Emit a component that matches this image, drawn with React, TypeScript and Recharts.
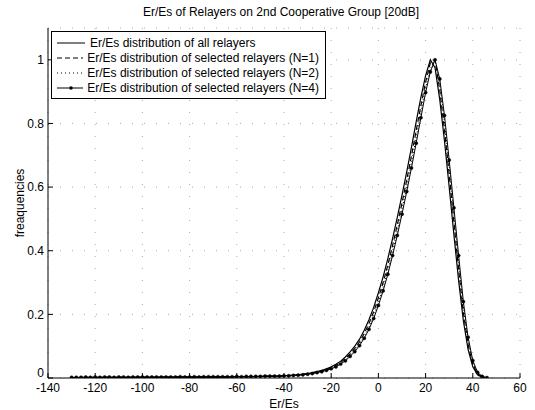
import { LineChart, Line, XAxis, YAxis, CartesianGrid, Legend } from 'recharts';

// Er/Es (dB) sample points, step 2
const erEs = [
    -130, -128, -126, -124, -122, -120, -118, -116, -114, -112, -110, -108, -106, -104, -102, -100,
    -98, -96, -94, -92, -90, -88, -86, -84, -82, -80, -78, -76, -74, -72, -70, -68, -66, -64, -62, -60,
    -58, -56, -54, -52, -50, -48, -46, -44, -42, -40,
    -38, -36, -34, -32, -30, -28, -26, -24, -22, -20, -18, -16, -14, -12, -10, -8, -6, -4, -2,
    0, 2, 4, 6, 8, 10, 12, 14, 16, 18, 20, 22, 24, 26, 28, 30, 32, 34, 36, 38, 40, 42, 44, 46,
];

const allRelayers = [
    0.001, 0.001, 0.001, 0.001, 0.002, 0.001, 0.002, 0.001, 0.002, 0.002, 0.002, 0.002, 0.002, 0.002, 0.002, 0.002,
    0.002, 0.002, 0.002, 0.003, 0.002, 0.003, 0.003, 0.003, 0.003, 0.003, 0.003, 0.003, 0.003, 0.003, 0.003, 0.003, 0.003, 0.004, 0.003, 0.004,
    0.004, 0.004, 0.004, 0.004, 0.005, 0.005, 0.005, 0.006, 0.006, 0.007,
    0.008, 0.009, 0.010, 0.012, 0.014, 0.017, 0.020, 0.024, 0.029, 0.035, 0.043, 0.053, 0.066, 0.082, 0.100, 0.122, 0.150, 0.183, 0.222,
    0.268, 0.318, 0.375, 0.438, 0.505, 0.575, 0.648, 0.725, 0.805, 0.882, 0.950, 1.0, 0.975, 0.875, 0.745, 0.600, 0.450, 0.305, 0.180, 0.090, 0.035, 0.010, 0.002, 0,
];

const selectedN1 = [
    0.001, 0.001, 0.002, 0.001, 0.001, 0.002, 0.001, 0.002, 0.002, 0.001, 0.002, 0.002, 0.002, 0.002, 0.002, 0.002,
    0.002, 0.002, 0.003, 0.002, 0.003, 0.002, 0.003, 0.003, 0.003, 0.003, 0.003, 0.003, 0.003, 0.003, 0.003, 0.003, 0.004, 0.003, 0.004, 0.004,
    0.004, 0.004, 0.004, 0.005, 0.005, 0.005, 0.005, 0.006, 0.006, 0.007,
    0.007, 0.008, 0.010, 0.011, 0.013, 0.016, 0.019, 0.022, 0.027, 0.032, 0.040, 0.049, 0.061, 0.076, 0.093, 0.114, 0.140, 0.171, 0.208,
    0.252, 0.300, 0.355, 0.416, 0.481, 0.550, 0.622, 0.698, 0.777, 0.856, 0.930, 0.990, 1.0, 0.905, 0.780, 0.640, 0.490, 0.340, 0.205, 0.105, 0.042, 0.013, 0.003, 0,
];

const selectedN2 = [
    0.001, 0.002, 0.001, 0.001, 0.002, 0.001, 0.002, 0.002, 0.001, 0.002, 0.002, 0.002, 0.002, 0.002, 0.002, 0.003,
    0.002, 0.002, 0.002, 0.003, 0.003, 0.003, 0.002, 0.003, 0.003, 0.003, 0.003, 0.003, 0.004, 0.003, 0.003, 0.004, 0.003, 0.004, 0.004, 0.004,
    0.004, 0.004, 0.005, 0.004, 0.005, 0.005, 0.006, 0.005, 0.006, 0.006,
    0.007, 0.008, 0.009, 0.011, 0.012, 0.015, 0.018, 0.021, 0.025, 0.030, 0.037, 0.046, 0.057, 0.071, 0.087, 0.107, 0.131, 0.160, 0.195,
    0.238, 0.285, 0.338, 0.398, 0.462, 0.530, 0.601, 0.677, 0.755, 0.835, 0.912, 0.972, 1.0, 0.925, 0.805, 0.665, 0.515, 0.365, 0.225, 0.118, 0.048, 0.015, 0.004, 0.001,
];

const selectedN4 = [
    0.002, 0.002, 0.002, 0.003, 0.002, 0.003, 0.002, 0.003, 0.003, 0.002, 0.003, 0.003, 0.002, 0.003, 0.003, 0.003,
    0.003, 0.003, 0.003, 0.003, 0.003, 0.003, 0.003, 0.004, 0.003, 0.003, 0.004, 0.003, 0.004, 0.004, 0.004, 0.004, 0.004, 0.004, 0.004, 0.005,
    0.004, 0.005, 0.005, 0.005, 0.005, 0.006, 0.006, 0.006, 0.006, 0.007,
    0.007, 0.008, 0.009, 0.010, 0.012, 0.014, 0.017, 0.020, 0.024, 0.029, 0.035, 0.044, 0.054, 0.068, 0.083, 0.102, 0.125, 0.153, 0.187,
    0.228, 0.274, 0.326, 0.385, 0.448, 0.515, 0.586, 0.660, 0.738, 0.818, 0.897, 0.962, 1.0, 0.940, 0.825, 0.685, 0.535, 0.385, 0.240, 0.128, 0.055, 0.018, 0.005, 0.001,
];

const xTicks = [-140, -120, -100, -80, -60, -40, -20, 0, 20, 40, 60];
const yTicks = [0, 0.2, 0.4, 0.6, 0.8, 1];

const legendItems = [
    { label: 'Er/Es distribution of all relayers', dash: undefined, dot: false },
    { label: 'Er/Es distribution of selected relayers (N=1)', dash: '5 3', dot: false },
    { label: 'Er/Es distribution of selected relayers (N=2)', dash: '1 3', dot: false },
    { label: 'Er/Es distribution of selected relayers (N=4)', dash: undefined, dot: true },
];

const FONT = 'Arial, "Liberation Sans", sans-serif';

function LegendBox() {
    return (
        <div style={{ border: '1px solid #000', background: '#fff', padding: '3px 6px 3px 4px', fontFamily: FONT, fontSize: 12, width: 263 }}>
            {legendItems.map((it) => (
                <div key={it.label} style={{ display: 'flex', alignItems: 'center', height: 15 }}>
                    <svg width={30} height={10} style={{ marginRight: 4 }}>
                        <line x1={1} y1={5} x2={29} y2={5} stroke="#000" strokeWidth={1} strokeDasharray={it.dash} />
                        {it.dot && <circle cx={15} cy={5} r={1.8} fill="#000" />}
                    </svg>
                    <span style={{ whiteSpace: 'nowrap' }}>{it.label}</span>
                </div>
            ))}
        </div>
    );
}

// y tick labels; the 0 sits a little higher so it clears the -140 below it
function YTick(props: any) {
    const { x, y, payload } = props;
    const lift = payload.value === 0 ? -5 : 0;
    return (
        <text x={x} y={y + lift} dy="0.355em" textAnchor="end" fill="#000" fontSize={12} fontFamily={FONT}>
            {payload.value}
        </text>
    );
}

export default function App() {
    const data = erEs.map((x, i) => ({
        x,
        all: allRelayers[i],
        n1: selectedN1[i],
        n2: selectedN2[i],
        n4: selectedN4[i],
    }));
    const tickStyle = { fill: '#000', fontSize: 12, fontFamily: FONT };

    return (
        <div style={{ position: 'absolute', left: 0, top: 0, width: 535, height: 410, background: '#fff' }}>
            <div style={{ position: 'absolute', left: 0, width: 562, top: 5, textAlign: 'center', fontFamily: FONT, fontSize: 12 }}>
                Er/Es of Relayers on 2nd Cooperative Group [20dB]
            </div>
            <LineChart width={535} height={410} data={data} margin={{ top: 28, right: 15, bottom: 0, left: 8 }}>
                <CartesianGrid stroke="#aaa" strokeDasharray="1 11" />
                <XAxis
                    dataKey="x"
                    type="number"
                    domain={[-140, 60]}
                    ticks={xTicks}
                    height={32}
                    stroke="#000"
                    tickSize={-5}
                    tickMargin={10}
                    tick={tickStyle}
                    allowDataOverflow
                    label={{ value: 'Er/Es', position: 'insideBottom', offset: 2, fill: '#000', fontSize: 12, fontFamily: FONT }}
                />
                <XAxis
                    xAxisId="top"
                    orientation="top"
                    dataKey="x"
                    type="number"
                    domain={[-140, 60]}
                    ticks={xTicks}
                    height={0}
                    stroke="#000"
                    tickSize={-5}
                    tickFormatter={() => ''}
                />
                <YAxis
                    domain={[0, 1.1]}
                    ticks={yTicks}
                    width={40}
                    stroke="#000"
                    tickSize={-5}
                    tickMargin={9}
                    tick={<YTick />}
                    allowDataOverflow
                    label={{ value: 'freaquencies', angle: -90, position: 'insideLeft', offset: 12, fill: '#000', fontSize: 12, fontFamily: FONT, style: { textAnchor: 'middle' } }}
                />
                <YAxis
                    yAxisId="right"
                    orientation="right"
                    domain={[0, 1.1]}
                    ticks={yTicks}
                    width={0}
                    stroke="#000"
                    tickSize={-5}
                    tickFormatter={() => ''}
                />
                <Legend
                    layout="horizontal"
                    verticalAlign="middle"
                    align="center"
                    content={() => <LegendBox />}
                    wrapperStyle={{ position: 'absolute', left: 51, top: 31, width: 'auto' }}
                />
                <Line dataKey="all" stroke="#000" strokeWidth={1.2} dot={false} isAnimationActive={false} />
                <Line dataKey="n1" stroke="#000" strokeWidth={1.2} strokeDasharray="5 3" dot={false} isAnimationActive={false} />
                <Line dataKey="n2" stroke="#000" strokeWidth={1} strokeDasharray="1 2" dot={false} isAnimationActive={false} />
                <Line dataKey="n4" stroke="#000" strokeWidth={1} dot={{ r: 1.6, fill: '#000', stroke: '#000', strokeWidth: 0.5 }} isAnimationActive={false} />
            </LineChart>
        </div>
    );
}
